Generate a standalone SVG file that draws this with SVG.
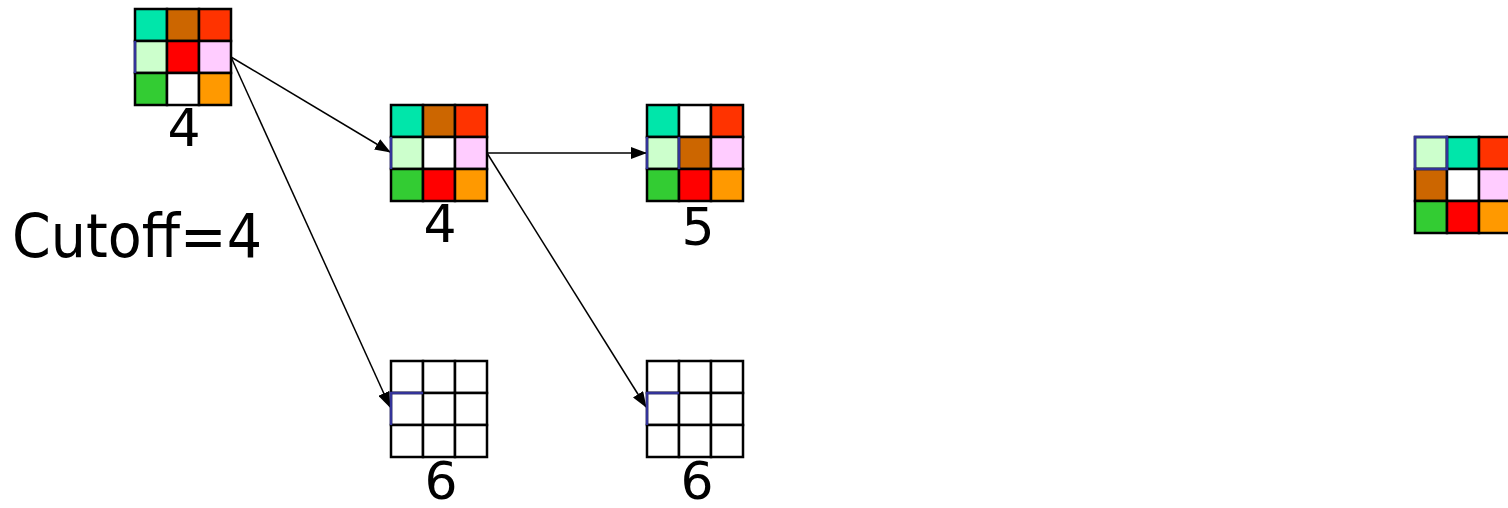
<svg xmlns="http://www.w3.org/2000/svg" width="1508" height="508" viewBox="0 0 1508 508">
<defs>
<marker id="ah" markerWidth="16" markerHeight="12" refX="15" refY="6" orient="auto" markerUnits="userSpaceOnUse">
<path d="M0,0 L16,6 L0,12 Z" fill="#000"/>
</marker>
</defs>
<style>
.c{stroke:#000;stroke-width:2.5}
.b{fill:none;stroke:#333399;stroke-width:2.5}
.t{font-family:"DejaVu Sans",Verdana,sans-serif;fill:#000;text-anchor:middle}
.l{font-size:52px}
.edge{stroke:#000;stroke-width:1.5;fill:none;marker-end:url(#ah)}
</style>
<g id="connectors">
<line class="edge" x1="231" y1="57" x2="390" y2="152"/>
<line class="edge" x1="231" y1="57" x2="390" y2="407"/>
<line class="edge" x1="487" y1="153" x2="646" y2="153"/>
<line class="edge" x1="487" y1="153" x2="646" y2="407"/>
</g>
<g id="n1">
<rect class="c" x="135" y="9" width="32" height="32" fill="#00E6AA"/>
<rect class="c" x="167" y="9" width="32" height="32" fill="#CC6600"/>
<rect class="c" x="199" y="9" width="32" height="32" fill="#FF3300"/>
<rect class="c" x="135" y="41" width="32" height="32" fill="#CCFFCC"/>
<rect class="c" x="167" y="41" width="32" height="32" fill="#FF0000"/>
<rect class="c" x="199" y="41" width="32" height="32" fill="#FFCCFF"/>
<rect class="c" x="135" y="73" width="32" height="32" fill="#33CC33"/>
<rect class="c" x="167" y="73" width="32" height="32" fill="#FFFFFF"/>
<rect class="c" x="199" y="73" width="32" height="32" fill="#FF9900"/>
<line class="b" x1="135" y1="41" x2="135" y2="73"/>
<text class="t l" x="184" y="146">4</text>
</g>
<g id="n2">
<rect class="c" x="391" y="105" width="32" height="32" fill="#00E6AA"/>
<rect class="c" x="423" y="105" width="32" height="32" fill="#CC6600"/>
<rect class="c" x="455" y="105" width="32" height="32" fill="#FF3300"/>
<rect class="c" x="391" y="137" width="32" height="32" fill="#CCFFCC"/>
<rect class="c" x="423" y="137" width="32" height="32" fill="#FFFFFF"/>
<rect class="c" x="455" y="137" width="32" height="32" fill="#FFCCFF"/>
<rect class="c" x="391" y="169" width="32" height="32" fill="#33CC33"/>
<rect class="c" x="423" y="169" width="32" height="32" fill="#FF0000"/>
<rect class="c" x="455" y="169" width="32" height="32" fill="#FF9900"/>
<line class="b" x1="391" y1="137" x2="391" y2="169"/>
<text class="t l" x="440" y="242">4</text>
</g>
<g id="n3">
<rect class="c" x="647" y="105" width="32" height="32" fill="#00E6AA"/>
<rect class="c" x="679" y="105" width="32" height="32" fill="#FFFFFF"/>
<rect class="c" x="711" y="105" width="32" height="32" fill="#FF3300"/>
<rect class="c" x="647" y="137" width="32" height="32" fill="#CCFFCC"/>
<rect class="c" x="679" y="137" width="32" height="32" fill="#CC6600"/>
<rect class="c" x="711" y="137" width="32" height="32" fill="#FFCCFF"/>
<rect class="c" x="647" y="169" width="32" height="32" fill="#33CC33"/>
<rect class="c" x="679" y="169" width="32" height="32" fill="#FF0000"/>
<rect class="c" x="711" y="169" width="32" height="32" fill="#FF9900"/>
<line class="b" x1="647" y1="137" x2="647" y2="169"/>
<line class="b" x1="679" y1="137" x2="679" y2="169"/>
<text class="t l" x="698" y="245">5</text>
</g>
<g id="n4">
<rect class="c" x="391" y="361" width="32" height="32" fill="#FFFFFF"/>
<rect class="c" x="423" y="361" width="32" height="32" fill="#FFFFFF"/>
<rect class="c" x="455" y="361" width="32" height="32" fill="#FFFFFF"/>
<rect class="c" x="391" y="393" width="32" height="32" fill="#FFFFFF"/>
<rect class="c" x="423" y="393" width="32" height="32" fill="#FFFFFF"/>
<rect class="c" x="455" y="393" width="32" height="32" fill="#FFFFFF"/>
<rect class="c" x="391" y="425" width="32" height="32" fill="#FFFFFF"/>
<rect class="c" x="423" y="425" width="32" height="32" fill="#FFFFFF"/>
<rect class="c" x="455" y="425" width="32" height="32" fill="#FFFFFF"/>
<polyline class="b" points="391,425 391,393 423,393"/>
<text class="t l" x="441" y="499">6</text>
</g>
<g id="n5">
<rect class="c" x="647" y="361" width="32" height="32" fill="#FFFFFF"/>
<rect class="c" x="679" y="361" width="32" height="32" fill="#FFFFFF"/>
<rect class="c" x="711" y="361" width="32" height="32" fill="#FFFFFF"/>
<rect class="c" x="647" y="393" width="32" height="32" fill="#FFFFFF"/>
<rect class="c" x="679" y="393" width="32" height="32" fill="#FFFFFF"/>
<rect class="c" x="711" y="393" width="32" height="32" fill="#FFFFFF"/>
<rect class="c" x="647" y="425" width="32" height="32" fill="#FFFFFF"/>
<rect class="c" x="679" y="425" width="32" height="32" fill="#FFFFFF"/>
<rect class="c" x="711" y="425" width="32" height="32" fill="#FFFFFF"/>
<polyline class="b" points="647,425 647,393 679,393"/>
<text class="t l" x="697" y="499">6</text>
</g>
<g id="goal">
<rect class="c" x="1415" y="137" width="32" height="32" fill="#CCFFCC"/>
<rect class="c" x="1447" y="137" width="32" height="32" fill="#00E6AA"/>
<rect class="c" x="1479" y="137" width="32" height="32" fill="#FF3300"/>
<rect class="c" x="1415" y="169" width="32" height="32" fill="#CC6600"/>
<rect class="c" x="1447" y="169" width="32" height="32" fill="#FFFFFF"/>
<rect class="c" x="1479" y="169" width="32" height="32" fill="#FFCCFF"/>
<rect class="c" x="1415" y="201" width="32" height="32" fill="#33CC33"/>
<rect class="c" x="1447" y="201" width="32" height="32" fill="#FF0000"/>
<rect class="c" x="1479" y="201" width="32" height="32" fill="#FF9900"/>
<rect class="b" x="1415" y="137" width="32" height="32"/>
</g>
<g id="cutoff">
<text class="t" x="137" y="257" font-size="60" textLength="250" lengthAdjust="spacingAndGlyphs">Cutoff=4</text>
</g>
</svg>
